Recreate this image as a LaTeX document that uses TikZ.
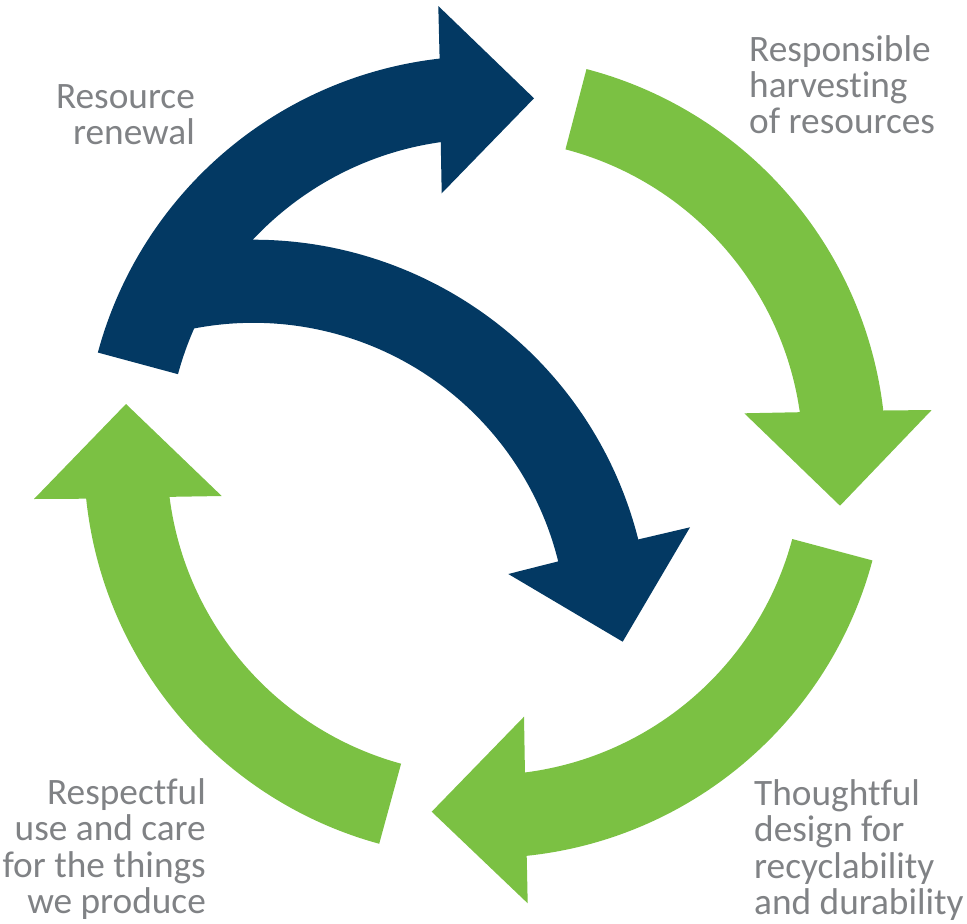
\documentclass[tikz,border=0pt]{standalone}
\usepackage{fontspec}
\setmainfont{Carlito}[Ligatures=NoCommon]
\usetikzlibrary{calc}
\definecolor{ringgreen}{RGB}{123,193,67}
\definecolor{ringnavy}{RGB}{3,57,99}
\definecolor{labelgray}{RGB}{128,130,133}
\tikzset{
  greenarrow/.style={fill=ringgreen},
  navyarrow/.style={fill=ringnavy},
  steplabel/.style={inner sep=0pt, text=labelgray, font=\fontsize{37.3}{35.6}\selectfont},
}
\begin{document}
\begin{tikzpicture}[x=1pt,y=1pt]
\useasboundingbox (0,0) rectangle (967,-924);
\coordinate (C) at (485,-457);
\coordinate (D) at (253.4,-636.8);

% navy: lower arc (tail hidden under the upper arc)
\fill[navyarrow] ($(D)+(104:397)$) arc[start angle=104, end angle=14.2, radius=397]
  -- (690,-527.3) -- (622.7,-641.7) -- (508.3,-574)
  -- ($(D)+(13.9:314)$) arc[start angle=13.9, end angle=104, radius=314] -- cycle;
% navy: upper arc
\fill[navyarrow] ($(C)+(164.9:401)$) arc[start angle=164.9, end angle=96.5, radius=401]
  -- (438.3,-6) -- (534,-98.3) -- (441.7,-193.3)
  -- ($(C)+(98:318)$) arc[start angle=98, end angle=164.9, radius=318] -- cycle;

% green: top right
\fill[greenarrow] ($(C)+(75.34:401)$) arc[start angle=75.34, end angle=6.66, radius=401]
  -- (931.7,-410) -- (840,-505.7) -- (744.3,-413.3)
  -- ($(C)+(8.1:318)$) arc[start angle=8.1, end angle=75.34, radius=318] -- cycle;
% green: bottom
\fill[greenarrow] ($(C)+(-14.95:401)$) arc[start angle=-14.95, end angle=-84.03, radius=401]
  -- (527.7,-903.3) -- (431.7,-811.7) -- (524,-716.7)
  -- ($(C)+(-82.78:318)$) arc[start angle=-82.78, end angle=-14.95, radius=318] -- cycle;
% green: left
\fill[greenarrow] ($(C)+(254.7:401)$) arc[start angle=254.7, end angle=185.97, radius=401]
  -- (34,-499) -- (126,-404) -- (221.7,-496)
  -- ($(C)+(187.2:318)$) arc[start angle=187.2, end angle=254.7, radius=318] -- cycle;

% labels
\node[steplabel, anchor=base east] (renewal) at (195,-108.3)
  {\begin{tabular}[t]{@{}r@{}}Resource\\renewal\end{tabular}};
\node[steplabel, anchor=base west] (harvest) at (749,-61)
  {\begin{tabular}[t]{@{}l@{}}Responsible\\harvesting\\of resources\end{tabular}};
\node[steplabel, anchor=base west] (design) at (754,-805)
  {\begin{tabular}[t]{@{}l@{}}Thoughtful\\design for\\recyclability\\and durability\end{tabular}};
\node[steplabel, anchor=base east] (use) at (206,-804)
  {\begin{tabular}[t]{@{}r@{}}Respectful\\use and care\\for the things\\we produce\end{tabular}};
\end{tikzpicture}
\end{document}
